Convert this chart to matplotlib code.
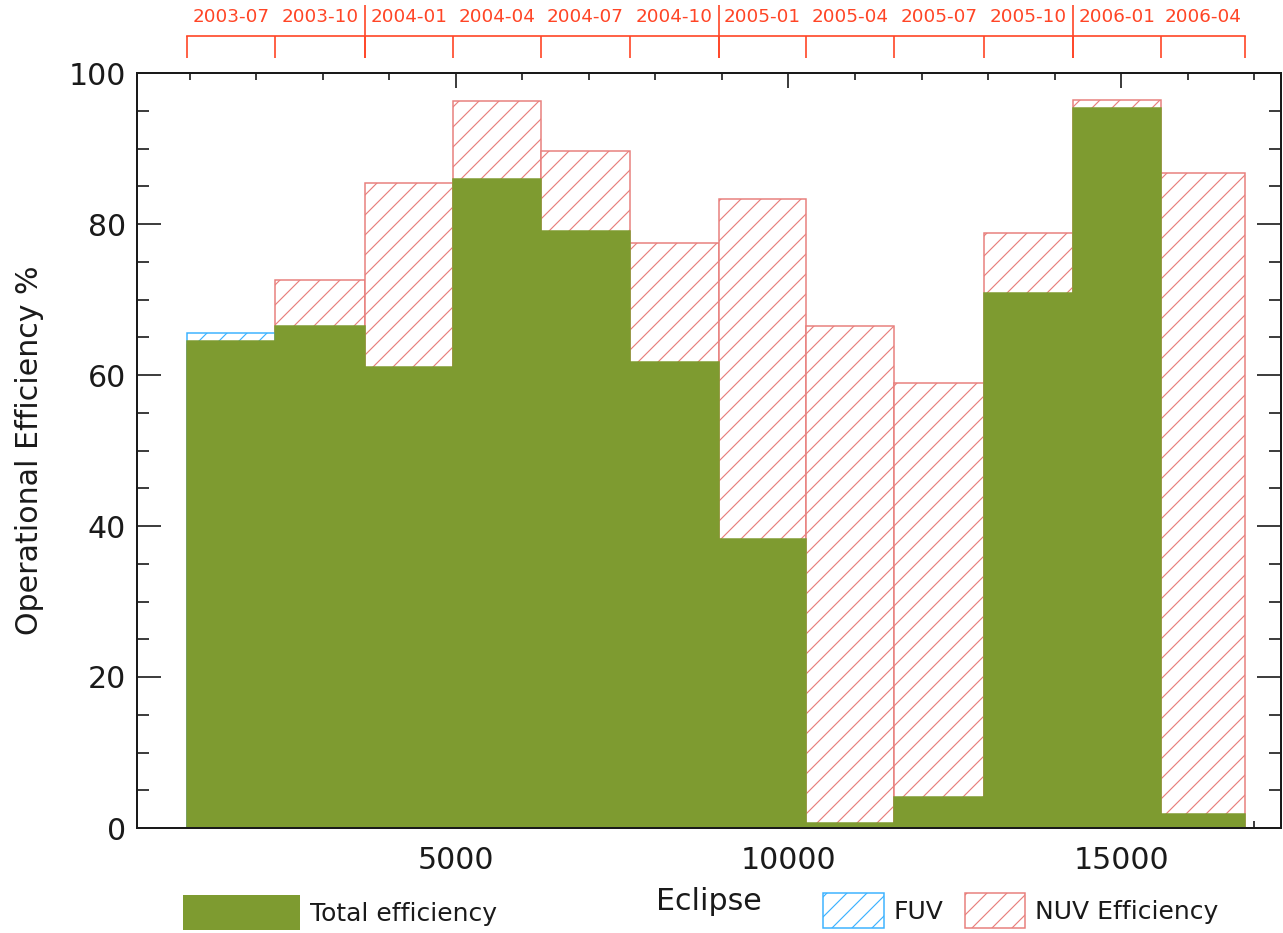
import numpy as np
import matplotlib
matplotlib.use('Agg')
import matplotlib.pyplot as plt
from matplotlib.patches import Patch
from matplotlib.ticker import MultipleLocator, FixedLocator, NullFormatter

# quarterly bins in eclipse number
edges = [957, 2279, 3632, 4955, 6278, 7615, 8953, 10261, 11584, 12936, 14274, 15597, 16859]
quarters = ['2003-07', '2003-10', '2004-01', '2004-04', '2004-07', '2004-10',
            '2005-01', '2005-04', '2005-07', '2005-10', '2006-01', '2006-04']

total_eff = [64.5, 66.5, 61.1, 86.0, 79.1, 61.7, 38.3, 0.7, 4.1, 70.9, 95.4, 1.9]
nuv_eff = [64.0, 72.6, 85.4, 96.3, 89.7, 77.5, 83.3, 66.5, 58.9, 78.8, 96.4, 86.8]
fuv_eff = [65.6, 0, 0, 0, 0, 0, 0, 0, 0, 0, 0, 0]

green = '#7e9b30'
nuv_col = '#e87f7c'
fuv_col = '#3cb2ff'
date_col = '#ff4526'
ink = '#1a1a1a'

plt.rcParams['font.family'] = 'DejaVu Sans'
plt.rcParams['hatch.linewidth'] = 0.7

W, H, DPI = 1283, 933, 120
fig = plt.figure(figsize=(W / DPI, H / DPI), dpi=DPI)

# main axes frame (pixel box 137..1281 x 73..828)
ax = fig.add_axes([137 / W, 1 - 828 / H, (1281 - 137) / W, (828 - 73) / H])

lefts = np.array(edges[:-1])
widths = np.diff(edges)

ax.bar(lefts, nuv_eff, width=widths, align='edge', facecolor='white',
       edgecolor=nuv_col, hatch='//', linewidth=0.9, zorder=1)
ax.bar(lefts, fuv_eff, width=widths, align='edge', facecolor='white',
       edgecolor=fuv_col, hatch='//', linewidth=0.9, zorder=1.1)
# solid bars get an edge of their own colour so they cover the outlines below
ax.bar(lefts, total_eff, width=widths, align='edge', color=green,
       edgecolor=green, linewidth=0.9, zorder=1.2)

ax.set_xlim(205, 17405)
ax.set_ylim(0, 100)
ax.set_axisbelow(True)

ax.xaxis.set_major_locator(FixedLocator([5000, 10000, 15000]))
ax.xaxis.set_minor_locator(MultipleLocator(1000))
ax.yaxis.set_major_locator(MultipleLocator(20))
ax.yaxis.set_minor_locator(MultipleLocator(5))

ax.tick_params(which='both', direction='in', top=True, right=True,
               color=ink, width=1.0, labelsize=18, labelcolor=ink)
ax.tick_params(axis='x', which='major', length=9, pad=11)
ax.tick_params(axis='x', which='minor', length=4.2)
ax.tick_params(axis='y', which='major', length=14.4, pad=6.5)
ax.tick_params(axis='y', which='minor', length=7.2)

for sp in ax.spines.values():
    sp.set_linewidth(1.2)
    sp.set_color(ink)
    sp.set_zorder(3)

ax.set_xlabel('Eclipse', fontsize=18, color=ink)
ax.xaxis.set_label_coords(0.5, -0.078)
ax.set_ylabel('Operational Efficiency %', fontsize=18, color=ink, va='center')
ax.yaxis.set_label_coords(-0.094, 0.5)

# date axis along the top, one label per quarter
ax_top = fig.add_axes([137 / W, 1 - 58 / H, (1281 - 137) / W, 22 / H])
ax_top.set_xlim(ax.get_xlim())
ax_top.set_ylim(0, 1)
ax_top.patch.set_alpha(0)
for side in ['left', 'right', 'bottom']:
    ax_top.spines[side].set_visible(False)
ax_top.spines['top'].set_color(date_col)
ax_top.spines['top'].set_linewidth(1.0)
ax_top.spines['top'].set_bounds(edges[0], edges[-1])
ax_top.yaxis.set_visible(False)
centers = lefts + widths / 2
ax_top.xaxis.set_major_locator(FixedLocator(edges))
ax_top.xaxis.set_major_formatter(NullFormatter())
ax_top.xaxis.set_minor_locator(FixedLocator(centers))
ax_top.set_xticklabels(quarters, minor=True)
ax_top.tick_params(which='both', bottom=False, labelbottom=False, top=True, labeltop=True)
ax_top.tick_params(which='major', direction='in', length=13.2, width=1.0, color=date_col)
ax_top.tick_params(which='minor', length=0, pad=6, labelsize=11, labelcolor=date_col)
year_starts = [edges[i] for i, q in enumerate(quarters) if q.endswith('-01')]
ax_top.vlines(year_starts, 0, 53 / 22, color=date_col, linewidth=1.0, clip_on=False)

# legend entries along the bottom edge
leg_kw = dict(loc='upper left', bbox_transform=fig.transFigure, frameon=False,
              fontsize=15, borderpad=0, borderaxespad=0, handletextpad=0.4,
              handleheight=1.8, labelcolor=ink)
fig.legend(handles=[Patch(facecolor=green, edgecolor='none')], labels=['Total efficiency'],
           bbox_to_anchor=(183 / W, 1 - 895 / H), handlelength=4.68, **leg_kw)
fig.legend(handles=[Patch(facecolor='white', edgecolor=fuv_col, hatch='//', linewidth=0.9)],
           labels=['FUV'], bbox_to_anchor=(823 / W, 1 - 893 / H), handlelength=2.44, **leg_kw)
fig.legend(handles=[Patch(facecolor='white', edgecolor=nuv_col, hatch='//', linewidth=0.9)],
           labels=['NUV Efficiency'], bbox_to_anchor=(965 / W, 1 - 893 / H), handlelength=2.4, **leg_kw)

fig.savefig('out.png', dpi=DPI)
